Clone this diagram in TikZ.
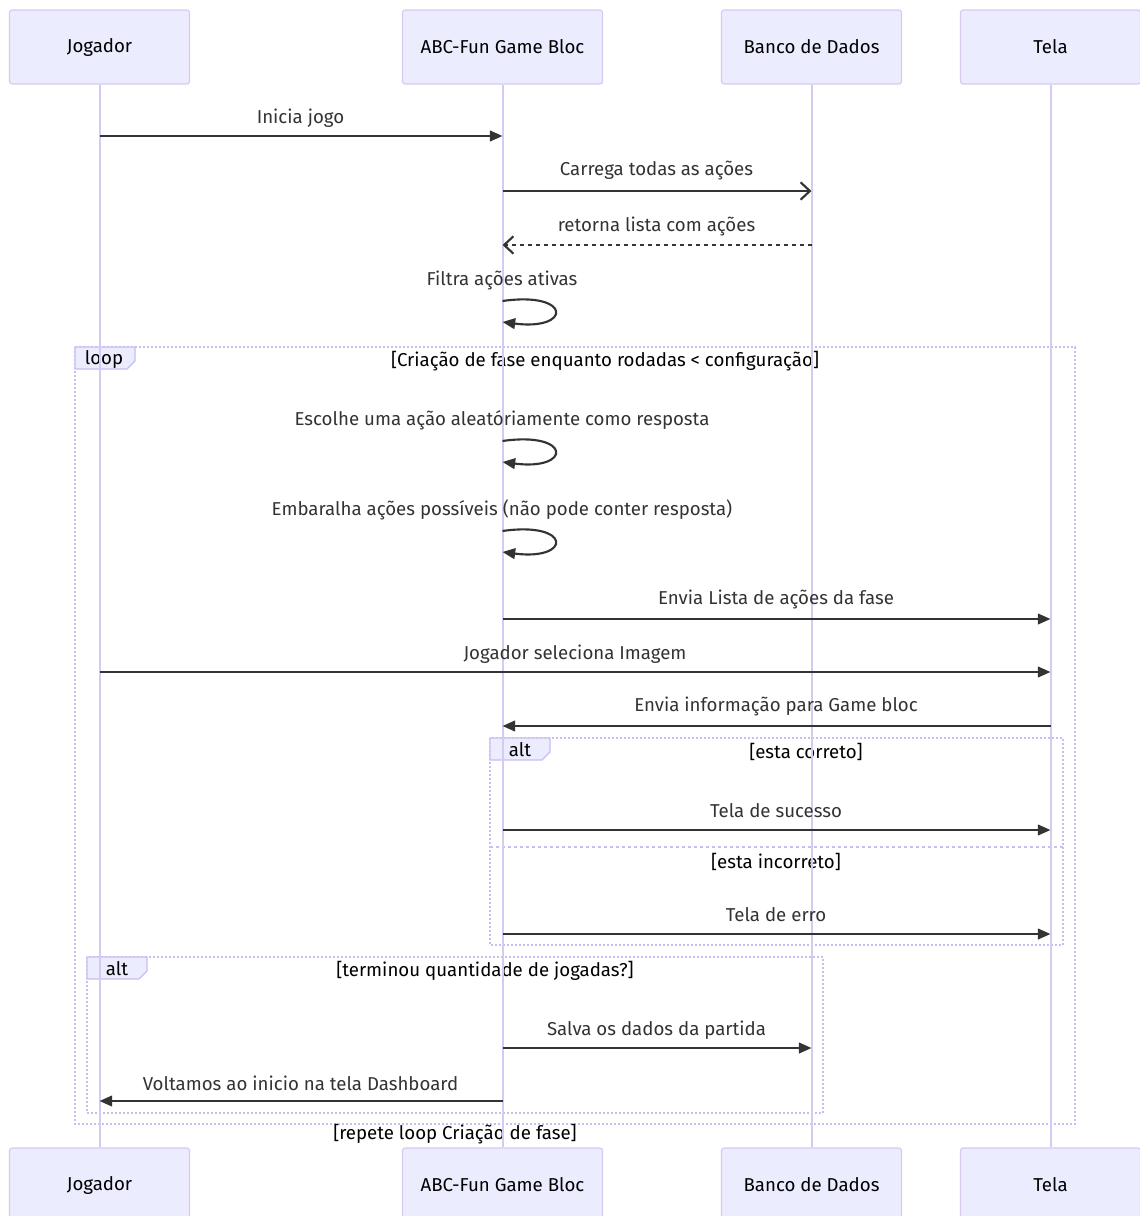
\documentclass[tikz,border=0pt]{standalone}
\usepackage{fontspec}
\setmainfont{Fira Sans}
\usetikzlibrary{arrows.meta, positioning}

\definecolor{actorfill}{RGB}{236,236,255}
\definecolor{actorline}{RGB}{214,202,243}
\definecolor{frameline}{RGB}{200,190,242}
\definecolor{msgcolor}{RGB}{51,51,51}

\tikzset{
  actor/.style={draw=actorline, fill=actorfill, line width=0.9pt, rounded corners=2pt,
    minimum width=135pt, minimum height=55.5pt, inner sep=0pt, font=\fontsize{14}{16}\selectfont},
  lifeline/.style={draw=actorline, line width=1.5pt},
  msg/.style={draw=msgcolor, line width=1.6pt, -{Triangle[length=9.5pt,width=8pt]}},
  async/.style={draw=msgcolor, line width=1.6pt, -{Straight Barb[length=7pt,width=13pt,line width=1.6pt]}},
  msglabel/.style={text=msgcolor, inner sep=0pt, font=\fontsize{14}{16}\selectfont},
  frame/.style={draw=frameline, line width=1.5pt, dash pattern=on 1.5pt off 1.5pt},
  sepline/.style={draw=frameline, line width=1.5pt, dash pattern=on 2.25pt off 2.25pt},
  tab/.style={draw=frameline, fill=actorfill, line width=0.9pt},
  frametext/.style={text=black, inner sep=0pt, font=\fontsize{14}{16}\selectfont},
}

\begin{document}
\begin{tikzpicture}[x=0.75pt, y=-0.75pt]
\useasboundingbox (0,0) rectangle (1139,1216);

% Frames (drawn first, lifelines go over them)
\draw[frame] (75,347) rectangle (1075,1124);
\draw[tab] (75,347) -- (135,347) -- (135,361) -- (127,369) -- (75,369) -- cycle;
\node[frametext] (looptab) at (104,359) {loop};
\node[frametext] (loopcond) at (605,361) {[Criação de fase enquanto rodadas < configuração]};

\draw[frame] (490,738) rectangle (1063,945);
\draw[tab] (490,738) -- (550,738) -- (550,752) -- (542,760) -- (490,760) -- cycle;
\node[frametext] (alttab) at (520,750) {alt};
\node[frametext] (altcond) at (806,752) {[esta correto]};
\draw[sepline] (490,847) -- (1063,847);
\node[frametext] (elsecond) at (776,862) {[esta incorreto]};

\draw[frame] (87,957) rectangle (823,1113);
\draw[tab] (87,957) -- (147,957) -- (147,971) -- (139,979) -- (87,979) -- cycle;
\node[frametext] (alttabb) at (117,969) {alt};
\node[frametext] (altcondb) at (485,971) {[terminou quantidade de jogadas?]};

\node[frametext] (loopend) at (455,1134) {[repete loop Criação de fase]};

% Participants
\node[actor] (jog) at (99.5,47) {Jogador};
\node[actor, minimum width=150pt] (bloc) at (502.5,47) {ABC-Fun Game Bloc};
\node[actor] (banco) at (811.5,47) {Banco de Dados};
\node[actor] (tela) at (1050.5,47) {Tela};

\node[actor] (jogB) at (99.5,1185) {Jogador};
\node[actor, minimum width=150pt] (blocB) at (502.5,1185) {ABC-Fun Game Bloc};
\node[actor] (bancoB) at (811.5,1185) {Banco de Dados};
\node[actor] (telaB) at (1050.5,1185) {Tela};

% Lifelines
\draw[lifeline] (jog) -- (jogB);
\draw[lifeline] (bloc) -- (blocB);
\draw[lifeline] (banco) -- (bancoB);
\draw[lifeline] (tela) -- (telaB);

% Messages
\node[msglabel] (m1) at (300.5,118) {Inicia jogo};
\draw[msg] (jog |- 0,136) -- (bloc |- 0,136);

\node[msglabel] (m2) at (656.5,171) {Carrega todas as ações};
\draw[async] (bloc |- 0,191) -- (banco |- 0,191);

\node[msglabel] (m3) at (656.5,226) {retorna lista com ações};
\draw[async, dashed] (banco |- 0,245) -- (bloc |- 0,245);

\node[msglabel] (m4) at (502,280) {Filtra ações ativas};
\draw[msg] (bloc |- 0,301) .. controls (572,291) and (572,331) .. (bloc |- 0,322);

\node[msglabel] (m5) at (502,420) {Escolhe uma ação aleatóriamente como resposta};
\draw[msg] (bloc |- 0,441) .. controls (572,431) and (572,471) .. (bloc |- 0,462);

\node[msglabel] (m6) at (502,510) {Embaralha ações possíveis (não pode conter resposta)};
\draw[msg] (bloc |- 0,531) .. controls (572,521) and (572,561) .. (bloc |- 0,552);

\node[msglabel] (m7) at (776,599) {Envia Lista de ações da fase};
\draw[msg] (bloc |- 0,619) -- (tela |- 0,619);

\node[msglabel] (m8) at (575,654) {Jogador seleciona Imagem};
\draw[msg] (jog |- 0,672) -- (tela |- 0,672);

\node[msglabel] (m9) at (776,706) {Envia informação para Game bloc};
\draw[msg] (tela |- 0,726) -- (bloc |- 0,726);

\node[msglabel] (m10) at (776,811) {Tela de sucesso};
\draw[msg] (bloc |- 0,830) -- (tela |- 0,830);

\node[msglabel] (m11) at (776,915) {Tela de erro};
\draw[msg] (bloc |- 0,934) -- (tela |- 0,934);

\node[msglabel] (m12) at (656.5,1030) {Salva os dados da partida};
\draw[msg] (bloc |- 0,1048) -- (banco |- 0,1048);

\node[msglabel] (m13) at (300.5,1083) {Voltamos ao inicio na tela Dashboard};
\draw[msg] (bloc |- 0,1101) -- (jog |- 0,1101);
\end{tikzpicture}
\end{document}
